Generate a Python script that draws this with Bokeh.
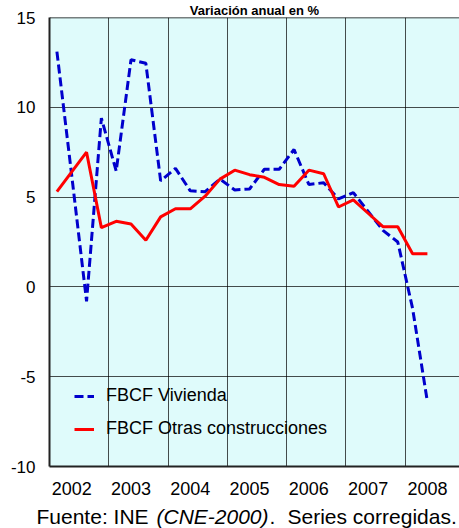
from bokeh.plotting import figure
from bokeh.layouts import column
from bokeh.models import FixedTicker, Legend, LegendItem, Label, Range1d, Span
from bokeh.embed import file_html
from bokeh.resources import INLINE

# ---- data ----
years = ["2002", "2003", "2004", "2005", "2006", "2007", "2008"]
quarters_per_year = 4
vivienda = [13.1, 6.2, -0.8, 9.4, 6.45, 12.65, 12.45, 5.9, 6.6, 5.35, 5.3, 6.0, 5.4,
            5.45, 6.55, 6.55, 7.65, 5.7, 5.8, 4.9, 5.25, 4.2, 3.15, 2.5, -1.2, -6.4]
otras = [5.3, 6.4, 7.5, 3.3, 3.65, 3.5, 2.6, 3.9, 4.35, 4.35, 5.05, 6.0, 6.5,
         6.25, 6.1, 5.7, 5.6, 6.5, 6.3, 4.45, 4.85, 4.1, 3.35, 3.35, 1.85, 1.85]
y_ticks = [-10, -5, 0, 5, 10, 15]
y_labels = ["-10", "-5", "0", "5", "10", "15"]
series_names = ["FBCF Vivienda", "FBCF Otras construcciones"]
title_text = "Variación anual en %"
note_parts = ["Fuente: INE", "(CNE-2000)", ".", "Series corregidas."]

FONT = "Liberation Sans"
W, H = 459, 504          # main figure
NH = 24                  # note strip height
FL, FT, FW, FH = 49, 16, 410, 450  # frame left/top/width/height (px)
QPX = 14.82  # px per quarter

x = list(range(len(vivienda)))
x0, x1 = -0.5, -0.5 + FW / QPX
p = figure(width=W, height=H, output_backend="svg", toolbar_location=None,
           x_range=Range1d(x0, x1), y_range=Range1d(-10, 15),
           min_border_left=FL, min_border_right=0, min_border_top=FT,
           min_border_bottom=H - FT - FH)

p.background_fill_color = "#DFFBFB"
p.border_fill_color = "white"
p.outline_line_color = None

# title in the narrow band above the plot
p.title.text = title_text
p.title.align = "center"
p.title.offset = -12
p.title.standoff = 0
p.title.text_font = FONT
p.title.text_font_size = "13px"
p.title.text_font_style = "bold"
p.title.text_color = "black"

# axes
year_ticks = [1 + quarters_per_year * k for k in range(len(years))]
p.xaxis.ticker = FixedTicker(ticks=year_ticks)
p.xaxis.major_label_overrides = {t: y for t, y in zip(year_ticks, years)}
p.yaxis.ticker = FixedTicker(ticks=y_ticks)
p.yaxis.major_label_overrides = {t: s for t, s in zip(y_ticks, y_labels)}
for ax in (p.xaxis[0], p.yaxis[0]):
    ax.major_tick_line_color = None
    ax.minor_tick_line_color = None
    ax.major_tick_out = 0
    ax.major_tick_in = 0
    ax.axis_line_color = "#222222"
    ax.axis_line_width = 2
    ax.major_label_text_font = FONT
    ax.major_label_text_color = "black"
p.xaxis.major_label_text_font_size = "18px"
p.yaxis.major_label_text_font_size = "17px"
p.xaxis.major_label_standoff = 15
p.yaxis.major_label_standoff = 14

p.xgrid.ticker = FixedTicker(ticks=[quarters_per_year * k - 0.5 for k in range(1, len(years))])
p.ygrid.ticker = FixedTicker(ticks=y_ticks)
for g in (p.xgrid[0], p.ygrid[0]):
    g.grid_line_color = "black"
    g.grid_line_alpha = 0.7
    g.grid_line_width = 1
p.add_layout(Span(location=15, dimension="width", line_color="black", line_width=1.5))

# series
r1 = p.line(x, vivienda, line_color="#0000CC", line_width=3, line_dash="9 4")
r2 = p.line(x, otras, line_color="#FF0000", line_width=3)

legend = Legend(items=[LegendItem(label=series_names[0], renderers=[r1]),
                       LegendItem(label=series_names[1], renderers=[r2])],
                location=(25, 27))
legend.background_fill_alpha = 0
legend.border_line_color = None
legend.padding = 0
legend.margin = 0
legend.spacing = 12
legend.glyph_width = 20
legend.glyph_height = 20
legend.label_height = 20
legend.label_standoff = 12
legend.label_text_font = FONT
legend.label_text_font_size = "18px"
legend.label_text_color = "black"
p.add_layout(legend)

# source note in its own strip below the chart
note = figure(width=W, height=NH, output_backend="svg", toolbar_location=None,
              x_range=Range1d(0, W), y_range=Range1d(0, NH),
              x_axis_type=None, y_axis_type=None,
              min_border_left=0, min_border_right=0, min_border_top=0, min_border_bottom=0)
try:
    note.title = None
except Exception:
    pass
note.frame_align = False
note.outline_line_color = None
note.grid.visible = False
note.background_fill_color = "white"
note.border_fill_color = "white"
base_y = 12  # baseline raised so the descenders stay inside the strip
styles = ["normal", "italic", "normal", "normal"]
starts = [36, 156, 269, 287]
for txt, style, px in zip(note_parts, styles, starts):
    note.add_layout(Label(x=px, y=base_y, text=txt, text_align="left",
                          text_baseline="alphabetic", text_font=FONT, text_font_size="21px",
                          text_font_style=style, text_color="black"))

layout = column(p, note, spacing=0)
open("out.html", "w").write(file_html(layout, INLINE))
